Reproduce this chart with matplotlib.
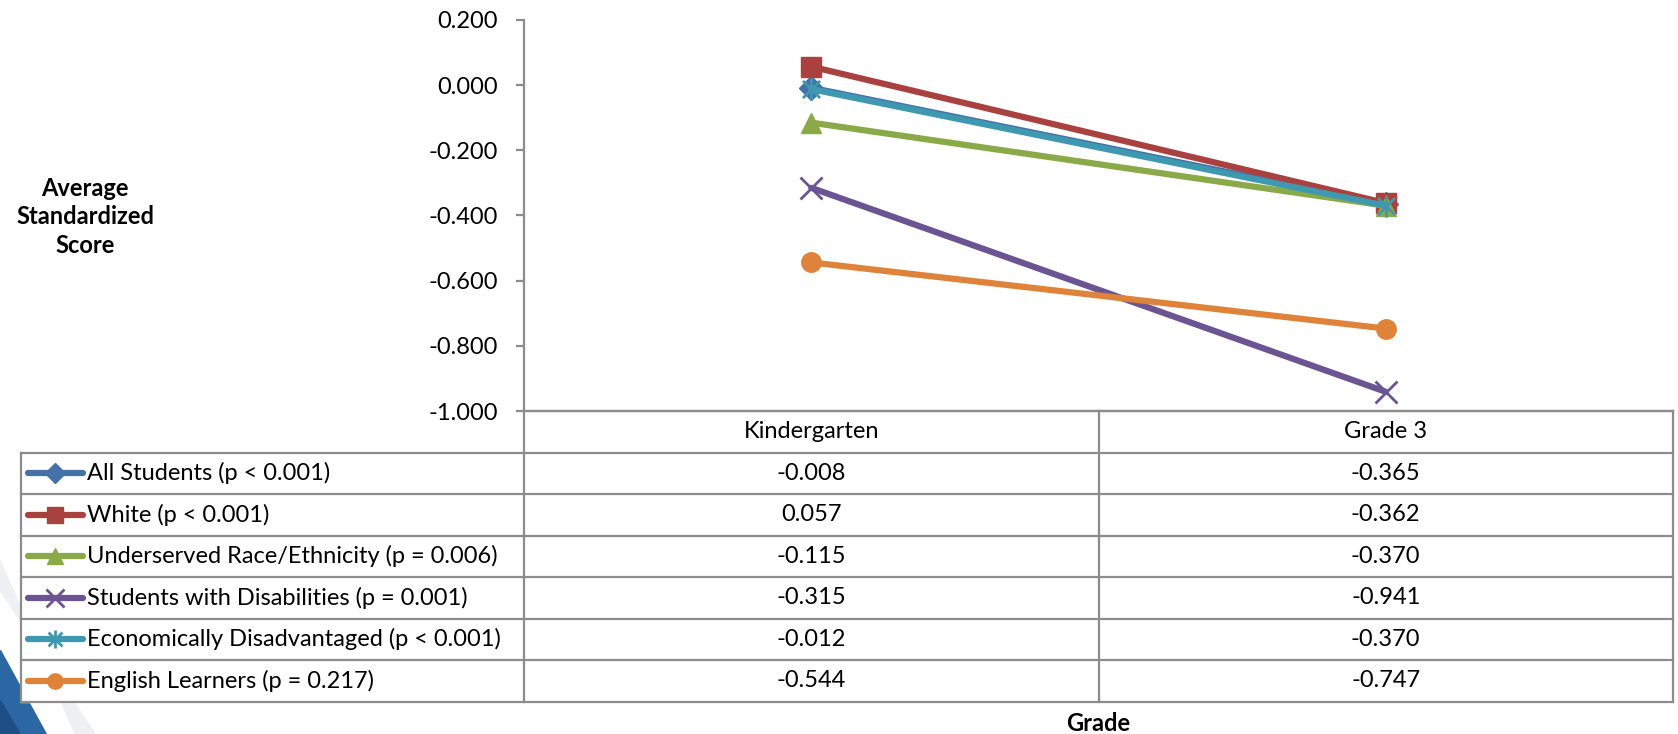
import matplotlib.pyplot as plt
from matplotlib.lines import Line2D
from matplotlib.patches import Polygon
from matplotlib.path import Path

plt.rcParams['font.family'] = ['Lato', 'DejaVu Sans']
plt.rcParams['axes.unicode_minus'] = False

grades = ['Kindergarten', 'Grade 3']
groups = ['All Students (p < 0.001)',
          'White (p < 0.001)',
          'Underserved Race/Ethnicity (p = 0.006)',
          'Students with Disabilities (p = 0.001)',
          'Economically Disadvantaged (p < 0.001)',
          'English Learners (p = 0.217)']
kinder = [-0.008, 0.057, -0.115, -0.315, -0.012, -0.544]
grade3 = [-0.365, -0.362, -0.370, -0.941, -0.370, -0.747]
yticks = [0.2, 0.0, -0.2, -0.4, -0.6, -0.8, -1.0]

# excel-style asterisk: an x with a vertical bar through it
star = Path([(-1, -1), (1, 1), (-1, 1), (1, -1), (0, -1.3), (0, 1.3)],
            [Path.MOVETO, Path.LINETO, Path.MOVETO, Path.LINETO, Path.MOVETO, Path.LINETO])

colors = ['#4472A8', '#A94140', '#8AAA4A', '#6C5493', '#3E99B0', '#E0833A']
markers = ['D', 's', '^', 'x', star, 'o']
msize = [12, 14, 14, 16, 16, 14]
legsize = [10, 11, 11, 13, 13, 11]

W, H = 1678, 734
fig = plt.figure(figsize=(W / 100, H / 100), dpi=100)
grid = '#8C8C8C'
fs = 17

# slide background swoosh in the lower left corner
bg = fig.add_axes([0, 0, 1, 1])
bg.set_xlim(0, W)
bg.set_ylim(H, 0)
bg.axis('off')
bg.add_patch(Polygon([(0, 560), (0, 590), (95, 734), (75, 734)], closed=True,
                     color='#EEF0F3', zorder=0))
bg.add_patch(Polygon([(0, 650), (0, 734), (46, 734)], closed=True,
                     color='#2B67A3', zorder=1))
bg.add_patch(Polygon([(0, 700), (0, 734), (20, 734)], closed=True,
                     color='#1D4F86', zorder=1))

left, right, top, bottom = 524, 1673, 20, 411
ax = fig.add_axes([left / W, 1 - bottom / H, (right - left) / W, (bottom - top) / H])
ax.patch.set_alpha(0)
x = list(range(len(grades)))
for i in range(len(groups)):
    thin = markers[i] in ('x', star)
    ax.plot(x, [kinder[i], grade3[i]], color=colors[i], lw=4.5,
            marker=markers[i], markersize=msize[i],
            mfc='none' if thin else colors[i], mec=colors[i],
            mew=2 if thin else 1, solid_capstyle='round')

ax.set_xlim(-0.5, 1.5)
ax.set_ylim(-1.0, 0.2)
ax.set_yticks(yticks)
ax.set_yticklabels(['%.3f' % v for v in yticks])
ax.set_xticks([])
for s in ['top', 'right']:
    ax.spines[s].set_visible(False)
for s in ['left', 'bottom']:
    ax.spines[s].set_color(grid)
    ax.spines[s].set_linewidth(1.6)
ax.tick_params(axis='y', length=6, width=1.6, color=grid, pad=13, labelsize=fs)

# data table under the plot
row_h = 41.5
hdr_top = bottom
rows_top = bottom + row_h
tab_left = 21
mid = (left + right) / 2
centers = [(left + mid) / 2, (mid + right) / 2]
lw = 1.6

bg.add_patch(Polygon([(tab_left, rows_top), (right, rows_top),
                      (right, rows_top + 6 * row_h), (tab_left, rows_top + 6 * row_h)],
                     closed=True, color='white', zorder=2))
for xv in [left, mid, right]:
    bg.plot([xv, xv], [hdr_top, rows_top + 6 * row_h], color=grid, lw=lw, zorder=3)
bg.plot([tab_left, tab_left], [rows_top, rows_top + 6 * row_h], color=grid, lw=lw, zorder=3)
bg.plot([left, right], [hdr_top, hdr_top], color=grid, lw=lw, zorder=3)
for r in range(7):
    yv = rows_top + r * row_h
    bg.plot([tab_left, right], [yv, yv], color=grid, lw=lw, zorder=3)

for c, g in zip(centers, grades):
    bg.text(c, hdr_top + row_h / 2, g, ha='center', va='center', fontsize=fs, zorder=4)

for i, name in enumerate(groups):
    yc = rows_top + (i + 0.5) * row_h
    thin = markers[i] in ('x', star)
    bg.add_line(Line2D([28, 83], [yc, yc], color=colors[i], lw=4.5,
                       solid_capstyle='round', zorder=4))
    bg.add_line(Line2D([55], [yc], marker=markers[i], markersize=legsize[i],
                       mfc='none' if thin else colors[i], mec=colors[i],
                       mew=2 if thin else 1, color=colors[i], zorder=5))
    bg.text(87, yc, name, ha='left', va='center', fontsize=fs, zorder=4)
    bg.text(centers[0], yc, '%.3f' % kinder[i], ha='center', va='center', fontsize=fs, zorder=4)
    bg.text(centers[1], yc, '%.3f' % grade3[i], ha='center', va='center', fontsize=fs, zorder=4)

bg.text(85, 217, 'Average\nStandardized\nScore', ha='center', va='center',
        fontsize=17, fontweight='bold', linespacing=1.3)
bg.text(mid, 731, 'Grade', ha='center', va='baseline', fontsize=17, fontweight='bold')

fig.savefig('out.png', dpi=100)
